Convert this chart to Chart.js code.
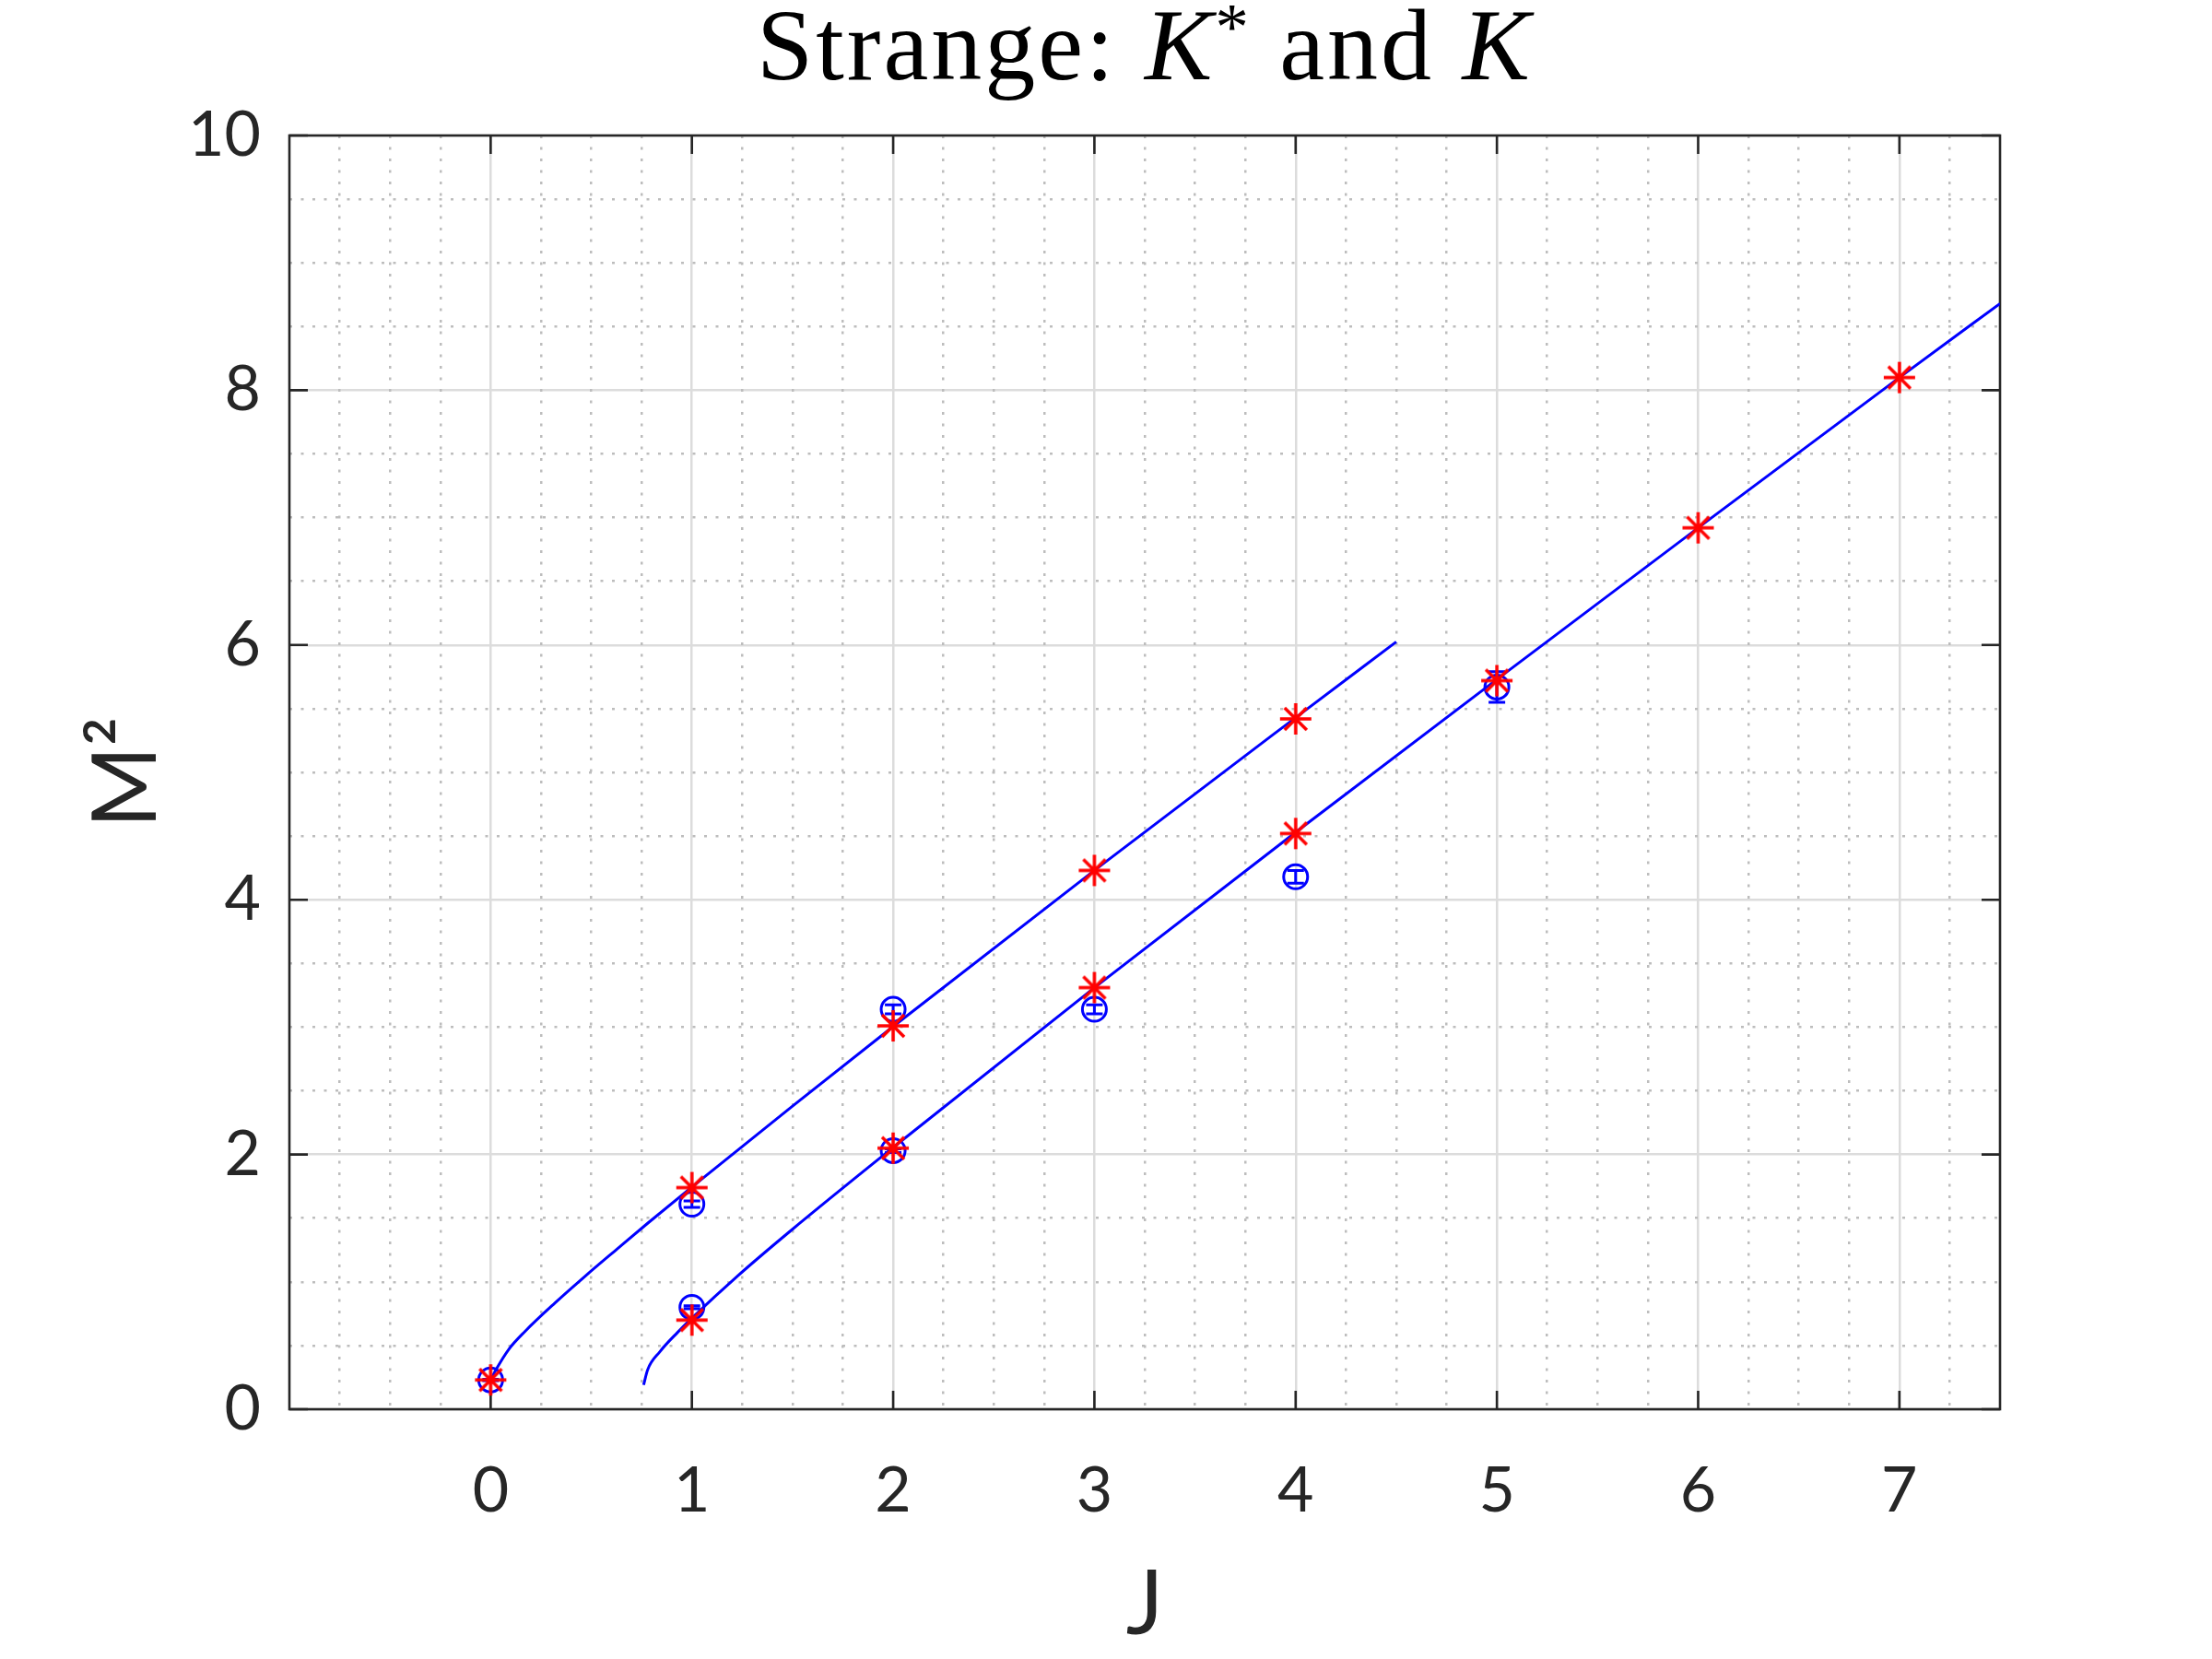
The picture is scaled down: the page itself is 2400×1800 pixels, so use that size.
<!DOCTYPE html>
<html>
<head>
<meta charset="utf-8">
<script src="https://cdn.jsdelivr.net/npm/chart.js@4.4.1/dist/chart.umd.min.js"></script>
<style>
  body { margin: 0; background: #fff; }
  #wrap { position: relative; width: 2400px; height: 1800px; }
  #title {
    position: absolute; left: 314px; width: 1856px; top: -6px;
    text-align: center; font-family: "Liberation Serif", "DejaVu Serif", serif;
    font-size: 110px; line-height: 1; color: #000; letter-spacing: 3px;
  }
  #title sup { font-size: 0.66em; vertical-align: 0.45em; line-height: 0; }
</style>
</head>
<body>
<div id="wrap">
  <canvas id="regge" width="2400" height="1800"></canvas>
  <div id="title">Strange: <i>K</i><sup>*</sup> and <i>K</i></div>
</div>
<script>
// axis ticks
const xTicks = [0, 1, 2, 3, 4, 5, 6, 7];
const xTickLabels = ['0', '1', '2', '3', '4', '5', '6', '7'];
const yTicks = [0, 2, 4, 6, 8, 10];
const yTickLabels = ['0', '2', '4', '6', '8', '10'];

// fitted trajectories
const upperLineJ = [0, 0.03, 0.09, 0.17, 0.32, 0.47, 0.63, 0.78, 1, 1.5, 2, 3, 4, 4.5];
const upperLineM2 = [0.23, 0.32, 0.47, 0.61, 0.835, 1.045, 1.26, 1.46, 1.745, 2.38, 3.005, 4.23, 5.43, 6.025];
const lowerLineJ = [0.76, 0.78, 0.84, 0.93, 1, 1.23, 1.49, 2, 3, 4, 5, 6, 7, 7.5];
const lowerLineM2 = [0.19, 0.31, 0.45, 0.605, 0.715, 1.05, 1.40, 2.055, 3.31, 4.53, 5.73, 6.92, 8.10, 8.68];

// model values (red stars)
const modelJ = [0, 1, 2, 3, 4, 1, 2, 3, 4, 5, 6, 7];
const modelM2 = [0.23, 1.74, 3.01, 4.23, 5.42, 0.70, 2.05, 3.31, 4.52, 5.72, 6.92, 8.10];

// measured values (blue circles) with errors
const expJ = [0, 1, 1, 2, 2, 3, 4, 5];
const expM2 = [0.23, 1.61, 0.80, 3.14, 2.03, 3.14, 4.18, 5.67];
const expErr = [0.005, 0.025, 0.012, 0.035, 0.015, 0.035, 0.05, 0.12];

const axisColor = '#262626';
const pts = (xs, ys) => xs.map((v, i) => ({ x: v, y: ys[i] }));

Chart.defaults.font.family = 'Lato';
Chart.defaults.color = axisColor;

// matlab style asterisk marker
const star = document.createElement('canvas');
star.width = star.height = 44;
(function () {
  const c = star.getContext('2d');
  c.strokeStyle = '#ff0000';
  c.lineWidth = 3.5;
  c.beginPath();
  for (let k = 0; k < 4; k++) {
    const a = k * Math.PI / 4;
    c.moveTo(22 - 17 * Math.cos(a), 22 - 17 * Math.sin(a));
    c.lineTo(22 + 17 * Math.cos(a), 22 + 17 * Math.sin(a));
  }
  c.stroke();
})();

// inward ticks + box like matlab
const boxAxes = {
  id: 'boxAxes',
  beforeDatasetsDraw(chart) {
    const { ctx, chartArea: a, scales } = chart;
    const tl = 20;
    ctx.save();
    ctx.strokeStyle = axisColor;
    ctx.lineWidth = 2.6;
    ctx.strokeRect(a.left, a.top, a.right - a.left, a.bottom - a.top);
    ctx.beginPath();
    xTicks.forEach(v => {
      const px = scales.x.getPixelForValue(v);
      ctx.moveTo(px, a.bottom); ctx.lineTo(px, a.bottom - tl);
      ctx.moveTo(px, a.top); ctx.lineTo(px, a.top + tl);
    });
    yTicks.forEach(v => {
      const py = scales.y.getPixelForValue(v);
      ctx.moveTo(a.left, py); ctx.lineTo(a.left + tl, py);
      ctx.moveTo(a.right, py); ctx.lineTo(a.right - tl, py);
    });
    ctx.stroke();
    ctx.restore();
  }
};

const errorBars = {
  id: 'errorBars',
  afterDatasetDraw(chart, args) {
    if (args.index !== 1) return;
    const { ctx, scales: { x, y } } = chart;
    ctx.save();
    ctx.strokeStyle = '#0000ff';
    ctx.lineWidth = 3;
    ctx.beginPath();
    expJ.forEach((j, i) => {
      const px = x.getPixelForValue(j);
      const top = y.getPixelForValue(expM2[i] + expErr[i]);
      const bot = y.getPixelForValue(expM2[i] - expErr[i]);
      ctx.moveTo(px, top); ctx.lineTo(px, bot);
      ctx.moveTo(px - 9, top); ctx.lineTo(px + 9, top);
      ctx.moveTo(px - 9, bot); ctx.lineTo(px + 9, bot);
    });
    ctx.stroke();
    ctx.restore();
  }
};

const minorX = [];
for (let v = -0.75; v < 7.5; v += 0.25) if (v % 1 !== 0) minorX.push(v);
const minorY = [];
for (let v = 0.5; v < 10; v += 0.5) if (v % 2 !== 0) minorY.push(v);

const lineStyle = { showLine: true, pointRadius: 0, borderColor: '#0000ff', borderWidth: 3,
  cubicInterpolationMode: 'monotone', fill: false };

// datasets are painted last-to-first, so the stars come first
new Chart(document.getElementById('regge').getContext('2d'), {
  type: 'scatter',
  data: {
    datasets: [
      { label: 'model', data: pts(modelJ, modelM2), pointStyle: star, pointRadius: 17 },
      { label: 'exp', data: pts(expJ, expM2), pointStyle: 'circle', pointRadius: 13,
        pointBorderColor: '#0000ff', pointBackgroundColor: 'rgba(0,0,0,0)', pointBorderWidth: 3 },
      { label: 'lower', data: pts(lowerLineJ, lowerLineM2), ...lineStyle },
      { label: 'upper', data: pts(upperLineJ, upperLineM2), ...lineStyle }
    ]
  },
  options: {
    responsive: false,
    animation: false,
    layout: { padding: { left: 0, right: 230, top: 147, bottom: 0 } },
    plugins: { legend: { display: false }, tooltip: { enabled: false } },
    scales: {
      x: {
        type: 'linear', position: 'bottom', min: -1, max: 7.5,
        afterBuildTicks: s => { s.ticks = xTicks.map(v => ({ value: v })); },
        afterFit: s => { s.height = 271; },
        ticks: { padding: 48, font: { size: 68 }, color: axisColor,
          callback: (v, i) => xTickLabels[i] },
        grid: { color: '#dcdcdc', lineWidth: 2.5, drawTicks: false },
        border: { display: false },
        title: { display: true, text: 'J', font: { size: 96 }, color: axisColor,
          padding: { top: 0, bottom: 0 } }
      },
      y: {
        type: 'linear', position: 'left', min: 0, max: 10,
        afterBuildTicks: s => { s.ticks = yTicks.map(v => ({ value: v })); },
        afterFit: s => { s.width = 314; },
        ticks: { padding: 31, font: { size: 68 }, color: axisColor,
          callback: (v, i) => yTickLabels[i] },
        grid: { color: '#dcdcdc', lineWidth: 2.5, drawTicks: false },
        border: { display: false },
        title: { display: true, text: 'M²', font: { size: 96 }, color: axisColor,
          padding: { top: 80, bottom: 0 } }
      },
      xMinor: {
        type: 'linear', axis: 'x', position: 'bottom', min: -1, max: 7.5,
        afterBuildTicks: s => { s.ticks = minorX.map(v => ({ value: v })); },
        afterFit: s => { s.height = 0; },
        ticks: { display: false },
        grid: { color: '#bdbdbd', lineWidth: 2.5, drawTicks: false },
        border: { display: false, dash: [3, 9.5] }
      },
      yMinor: {
        type: 'linear', axis: 'y', position: 'left', min: 0, max: 10,
        afterBuildTicks: s => { s.ticks = minorY.map(v => ({ value: v })); },
        afterFit: s => { s.width = 0; },
        ticks: { display: false },
        grid: { color: '#bdbdbd', lineWidth: 2.5, drawTicks: false },
        border: { display: false, dash: [3, 9.5] }
      }
    }
  },
  plugins: [boxAxes, errorBars]
});
</script>
</body>
</html>
